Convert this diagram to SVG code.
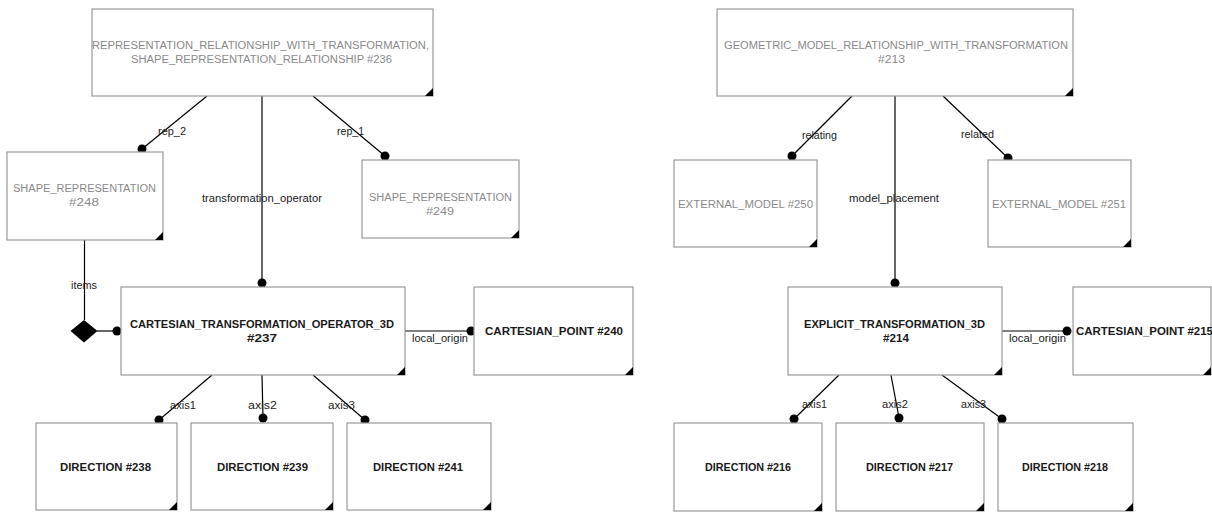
<svg xmlns="http://www.w3.org/2000/svg" width="1212" height="512" viewBox="0 0 1212 512">
<style>
.box{fill:#fff;stroke:#9a9a9a;stroke-width:1.2}
.crn{fill:#000}
.nt{font-family:"Liberation Sans",Arial,sans-serif;font-size:10px;text-anchor:middle;fill:#1a1a1a;font-weight:bold}
.gt{font-family:"Liberation Sans",Arial,sans-serif;font-size:10px;text-anchor:middle;fill:#8a8a8a}
.lb{font-family:"Liberation Sans",Arial,sans-serif;font-size:10px;fill:#222}
.ln{stroke:#000;stroke-width:1.2;fill:none}
.dot{fill:#000}
</style>
<rect width="1212" height="512" fill="#fff"/>
<g id="connectors">
  <line class="ln" x1="207" y1="96" x2="142" y2="149"/><circle class="dot" cx="142" cy="149" r="4.5"/>
  <text class="lb" x="158" y="134.5" textLength="28" lengthAdjust="spacingAndGlyphs">rep_2</text>
  <line class="ln" x1="313" y1="96" x2="385" y2="156"/><circle class="dot" cx="385" cy="156" r="4.5"/>
  <text class="lb" x="337" y="134.5" textLength="27" lengthAdjust="spacingAndGlyphs">rep_1</text>
  <line class="ln" x1="262" y1="96" x2="262" y2="283"/><circle class="dot" cx="262" cy="283" r="4.5"/>
  <text class="lb" x="202" y="201.5" textLength="120" lengthAdjust="spacingAndGlyphs">transformation_operator</text>
  <line class="ln" x1="84.5" y1="240" x2="84.5" y2="320"/>
  <polygon fill="#000" points="84,320 97.5,331 84,342.5 70.5,331"/>
  <line class="ln" x1="97" y1="331" x2="117" y2="331"/><circle class="dot" cx="117" cy="331" r="4.5"/>
  <text class="lb" x="71" y="288.5" textLength="26" lengthAdjust="spacingAndGlyphs">items</text>
  <line class="ln" x1="405" y1="331" x2="471" y2="331"/><circle class="dot" cx="471" cy="331" r="4.5"/>
  <text class="lb" x="412" y="341.5" textLength="56" lengthAdjust="spacingAndGlyphs">local_origin</text>
  <line class="ln" x1="212" y1="375" x2="159" y2="420"/><circle class="dot" cx="159" cy="420" r="4.5"/>
  <text class="lb" x="170" y="408.5" textLength="26" lengthAdjust="spacingAndGlyphs">axis1</text>
  <line class="ln" x1="262" y1="375" x2="263" y2="418"/><circle class="dot" cx="263" cy="418" r="4.5"/>
  <text class="lb" x="248" y="408.5" textLength="29" lengthAdjust="spacingAndGlyphs">axis2</text>
  <line class="ln" x1="313" y1="375" x2="365" y2="420"/><circle class="dot" cx="365" cy="420" r="4.5"/>
  <text class="lb" x="328" y="408.5" textLength="27" lengthAdjust="spacingAndGlyphs">axis3</text>

  <line class="ln" x1="852" y1="96" x2="792" y2="156"/><circle class="dot" cx="792" cy="156" r="4.5"/>
  <text class="lb" x="802" y="138.5" textLength="35" lengthAdjust="spacingAndGlyphs">relating</text>
  <line class="ln" x1="943" y1="96" x2="1008" y2="158"/><circle class="dot" cx="1008" cy="158" r="4.5"/>
  <text class="lb" x="961" y="137.5" textLength="33" lengthAdjust="spacingAndGlyphs">related</text>
  <line class="ln" x1="895" y1="96" x2="895" y2="283"/><circle class="dot" cx="895" cy="283" r="4.5"/>
  <text class="lb" x="849" y="201.5" textLength="90" lengthAdjust="spacingAndGlyphs">model_placement</text>
  <line class="ln" x1="1002" y1="331" x2="1067" y2="331"/><circle class="dot" cx="1067" cy="331" r="4.5"/>
  <text class="lb" x="1009" y="341.5" textLength="57" lengthAdjust="spacingAndGlyphs">local_origin</text>
  <line class="ln" x1="839" y1="375" x2="794" y2="419"/><circle class="dot" cx="794" cy="419" r="4.5"/>
  <text class="lb" x="802" y="407.5" textLength="25" lengthAdjust="spacingAndGlyphs">axis1</text>
  <line class="ln" x1="891" y1="375" x2="899" y2="418"/><circle class="dot" cx="899" cy="418" r="4.5"/>
  <text class="lb" x="882" y="407.5" textLength="26" lengthAdjust="spacingAndGlyphs">axis2</text>
  <line class="ln" x1="942" y1="375" x2="1002" y2="419"/><circle class="dot" cx="1002" cy="419" r="4.5"/>
  <text class="lb" x="961" y="407.5" textLength="25" lengthAdjust="spacingAndGlyphs">axis3</text>
</g>

<g id="n236">
  <rect class="box" x="92" y="9" width="341" height="87"/>
  <polygon class="crn" points="425,96 433,88 433,96"/>
  <text class="gt" x="260.5" y="48.5" textLength="337" lengthAdjust="spacingAndGlyphs">REPRESENTATION_RELATIONSHIP_WITH_TRANSFORMATION,</text>
  <text class="gt" x="261.5" y="62.5" textLength="261" lengthAdjust="spacingAndGlyphs">SHAPE_REPRESENTATION_RELATIONSHIP #236</text>
</g>
<g id="n248">
  <rect class="box" x="7" y="152" width="156" height="88"/>
  <polygon class="crn" points="155,240 163,232 163,240"/>
  <text class="gt" x="84.5" y="192" textLength="143" lengthAdjust="spacingAndGlyphs">SHAPE_REPRESENTATION</text>
  <text class="gt" x="84" y="206" textLength="30" lengthAdjust="spacingAndGlyphs">#248</text>
</g>
<g id="n249">
  <rect class="box" x="362" y="160" width="157" height="78"/>
  <polygon class="crn" points="511,238 519,230 519,238"/>
  <text class="gt" x="440.5" y="200.5" textLength="143" lengthAdjust="spacingAndGlyphs">SHAPE_REPRESENTATION</text>
  <text class="gt" x="440" y="214.5" textLength="28" lengthAdjust="spacingAndGlyphs">#249</text>
</g>
<g id="n237">
  <rect class="box" x="121" y="287" width="284" height="88"/>
  <polygon class="crn" points="397,375 405,367 405,375"/>
  <text class="nt" x="262" y="327.5" textLength="264" lengthAdjust="spacingAndGlyphs">CARTESIAN_TRANSFORMATION_OPERATOR_3D</text>
  <text class="nt" x="262" y="341.5" textLength="30" lengthAdjust="spacingAndGlyphs">#237</text>
</g>
<g id="n240">
  <rect class="box" x="474" y="287" width="159" height="88"/>
  <polygon class="crn" points="625,375 633,367 633,375"/>
  <text class="nt" x="554" y="334.5" textLength="138" lengthAdjust="spacingAndGlyphs">CARTESIAN_POINT #240</text>
</g>
<g id="n238">
  <rect class="box" x="36" y="423" width="141" height="87"/>
  <polygon class="crn" points="169,510 177,502 177,510"/>
  <text class="nt" x="105.5" y="470.5" textLength="91" lengthAdjust="spacingAndGlyphs">DIRECTION #238</text>
</g>
<g id="n239">
  <rect class="box" x="191" y="423" width="142" height="87"/>
  <polygon class="crn" points="325,510 333,502 333,510"/>
  <text class="nt" x="262.5" y="470.5" textLength="91" lengthAdjust="spacingAndGlyphs">DIRECTION #239</text>
</g>
<g id="n241">
  <rect class="box" x="347" y="423" width="144" height="87"/>
  <polygon class="crn" points="483,510 491,502 491,510"/>
  <text class="nt" x="418" y="470.5" textLength="90" lengthAdjust="spacingAndGlyphs">DIRECTION #241</text>
</g>

<g id="n213">
  <rect class="box" x="717" y="9" width="356" height="87"/>
  <polygon class="crn" points="1065,96 1073,88 1073,96"/>
  <text class="gt" x="896" y="48.5" textLength="344" lengthAdjust="spacingAndGlyphs">GEOMETRIC_MODEL_RELATIONSHIP_WITH_TRANSFORMATION</text>
  <text class="gt" x="891.5" y="62.5" textLength="27" lengthAdjust="spacingAndGlyphs">#213</text>
</g>
<g id="n250">
  <rect class="box" x="674" y="160" width="143" height="87"/>
  <polygon class="crn" points="809,247 817,239 817,247"/>
  <text class="gt" x="745.5" y="207.5" textLength="135" lengthAdjust="spacingAndGlyphs">EXTERNAL_MODEL #250</text>
</g>
<g id="n251">
  <rect class="box" x="988" y="160" width="143" height="87"/>
  <polygon class="crn" points="1123,247 1131,239 1131,247"/>
  <text class="gt" x="1059" y="207.5" textLength="134" lengthAdjust="spacingAndGlyphs">EXTERNAL_MODEL #251</text>
</g>
<g id="n214">
  <rect class="box" x="788" y="287" width="214" height="88"/>
  <polygon class="crn" points="994,375 1002,367 1002,375"/>
  <text class="nt" x="894.5" y="327.5" textLength="181" lengthAdjust="spacingAndGlyphs">EXPLICIT_TRANSFORMATION_3D</text>
  <text class="nt" x="896" y="341.5" textLength="26" lengthAdjust="spacingAndGlyphs">#214</text>
</g>
<g id="n215">
  <rect class="box" x="1073" y="287" width="138" height="88"/>
  <polygon class="crn" points="1203,375 1211,367 1211,375"/>
  <text class="nt" x="1076" y="334.5" style="text-anchor:start" textLength="137" lengthAdjust="spacingAndGlyphs">CARTESIAN_POINT #215</text>
</g>
<g id="n216">
  <rect class="box" x="674" y="423" width="148" height="88"/>
  <polygon class="crn" points="814,511 822,503 822,511"/>
  <text class="nt" x="748" y="470.5" textLength="86" lengthAdjust="spacingAndGlyphs">DIRECTION #216</text>
</g>
<g id="n217">
  <rect class="box" x="836" y="423" width="148" height="88"/>
  <polygon class="crn" points="976,511 984,503 984,511"/>
  <text class="nt" x="909.5" y="470.5" textLength="87" lengthAdjust="spacingAndGlyphs">DIRECTION #217</text>
</g>
<g id="n218">
  <rect class="box" x="998" y="423" width="135" height="88"/>
  <polygon class="crn" points="1125,511 1133,503 1133,511"/>
  <text class="nt" x="1065" y="470.5" textLength="86" lengthAdjust="spacingAndGlyphs">DIRECTION #218</text>
</g>
</svg>
